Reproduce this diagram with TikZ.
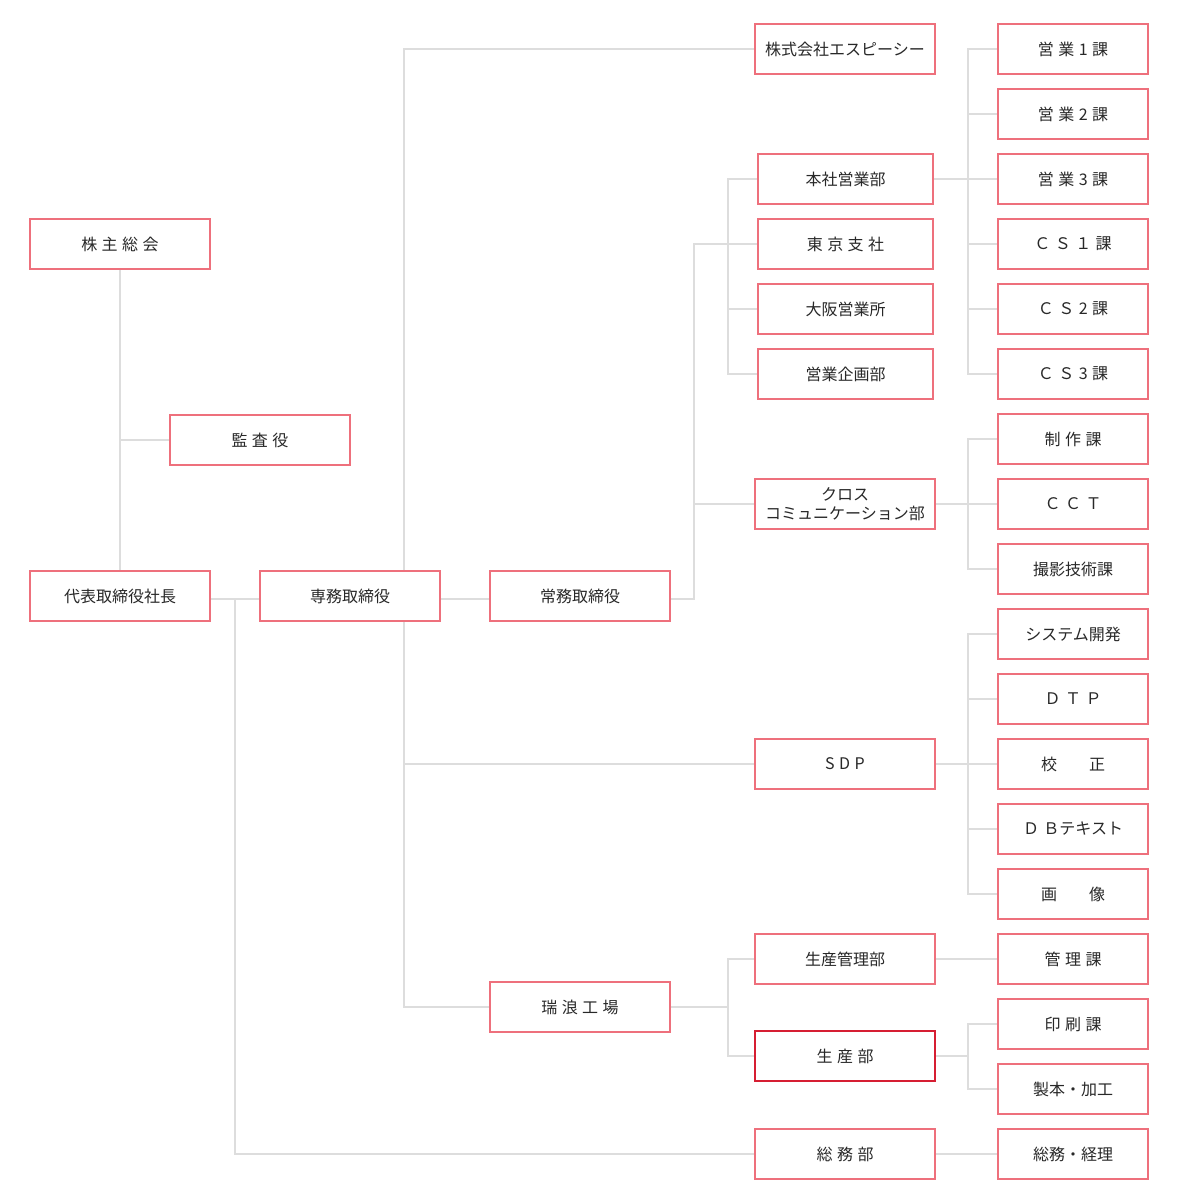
\documentclass[tikz,border=0pt]{standalone}
\usepackage{fontspec}
\setmainfont{Noto Sans CJK JP}
\usetikzlibrary{backgrounds}
\definecolor{boxred}{RGB}{238,112,124}
\definecolor{strongbord}{RGB}{214,30,50}
\definecolor{linegray}{RGB}{221,221,221}
\definecolor{txt}{RGB}{40,40,40}
\newcommand\gp{\hspace{4.5pt}}
\newcommand\wgp{\hspace{32pt}}
\tikzset{
  orgbox/.style={draw=boxred, line width=1.3pt, fill=white, minimum width=180pt, minimum height=50pt,
    inner sep=0pt, text=txt, align=center, font=\fontsize{16}{18}\selectfont},
  narrowbox/.style={orgbox, minimum width=175pt},
  secbox/.style={orgbox, minimum width=150pt},
  link/.style={draw=linegray, line width=1.5pt}
}
\begin{document}
\begin{tikzpicture}[x=1pt,y=-1pt]
\useasboundingbox (0,0) rectangle (1200,1200);
% column 0/1
\node[orgbox] (kabu) at (120,244) {株\gp 主\gp 総\gp 会};
\node[orgbox] (kansa) at (260,440) {監\gp 査\gp 役};
\node[orgbox] (daihyo) at (120,596) {代表取締役社長};
\node[orgbox] (senmu) at (350,596) {専務取締役};
\node[orgbox] (jomu) at (580,596) {常務取締役};
\node[orgbox] (mizu) at (580,1007) {瑞\gp 浪\gp 工\gp 場};
% column 2
\node[orgbox] (spc) at (845,49) {株式会社エスピーシー};
\node[narrowbox] (honsha) at (845.5,179) {本社営業部};
\node[narrowbox] (tokyo) at (845.5,244) {東\gp 京\gp 支\gp 社};
\node[narrowbox] (osaka) at (845.5,309) {大阪営業所};
\node[narrowbox] (kikaku) at (845.5,374) {営業企画部};
\node[orgbox, font=\fontsize{16}{19}\selectfont] (cross) at (845,504) {クロス\\コミュニケーション部};
\node[orgbox] (sdp) at (845,764) {S\gp D\gp P};
\node[orgbox] (kanribu) at (845,959) {生産管理部};
\node[orgbox, draw=strongbord] (seisan) at (845,1056) {生\gp 産\gp 部};
\node[orgbox] (somu) at (845,1154) {総\gp 務\gp 部};
% column 3
\node[secbox] (e1) at (1073,49) {営\gp 業\gp 1\gp 課};
\node[secbox] (e2) at (1073,114) {営\gp 業\gp 2\gp 課};
\node[secbox] (e3) at (1073,179) {営\gp 業\gp 3\gp 課};
\node[secbox] (cs1) at (1073,244) {Ｃ\gp Ｓ\gp １\gp 課};
\node[secbox] (cs2) at (1073,309) {Ｃ\gp Ｓ\gp 2\gp 課};
\node[secbox] (cs3) at (1073,374) {Ｃ\gp Ｓ\gp 3\gp 課};
\node[secbox] (seisaku) at (1073,439) {制\gp 作\gp 課};
\node[secbox] (cct) at (1073,504) {Ｃ\gp Ｃ\gp Ｔ};
\node[secbox] (satsuei) at (1073,569) {撮影技術課};
\node[secbox] (system) at (1073,634) {システム開発};
\node[secbox] (dtp) at (1073,699) {Ｄ\gp Ｔ\gp Ｐ};
\node[secbox] (kosei) at (1073,764) {校\wgp 正};
\node[secbox] (dbtext) at (1073,829) {Ｄ\gp Ｂテキスト};
\node[secbox] (gazo) at (1073,894) {画\wgp 像};
\node[secbox] (kanrika) at (1073,959) {管\gp 理\gp 課};
\node[secbox] (insatsu) at (1073,1024) {印\gp 刷\gp 課};
\node[secbox] (seihon) at (1073,1089) {製本・加工};
\node[secbox] (keiri) at (1073,1154) {総務・経理};
% junction columns
\coordinate (ca) at (235,0);
\coordinate (cb) at (404,0);
\coordinate (cc) at (694,0);
\coordinate (cd) at (728,0);
\coordinate (ce) at (968,0);
\begin{scope}[on background layer]
\fill[white] (0,0) rectangle (1200,1200);
\draw[link] (kabu.south) -- (daihyo.north);
\draw[link] (kansa.west) -- (kansa.west -| kabu.south);
\draw[link] ([yshift=-3pt]daihyo.east) -- ([yshift=-3pt]senmu.west);
\draw[link] ([yshift=-3pt]ca |- daihyo.east) |- (somu.west);
\draw[link] (spc.west) -| (cb |- mizu.west) -- (mizu.west);
\draw[link] (cb |- sdp.west) -- (sdp.west);
\draw[link] ([yshift=-3pt]senmu.east) -- ([yshift=-3pt]jomu.west);
\draw[link] ([yshift=-3pt]jomu.east) -| (cc |- tokyo.west) -- (tokyo.west);
\draw[link] (cc |- cross.west) -- (cross.west);
\draw[link] (honsha.west) -| (cd |- kikaku.west) -- (kikaku.west);
\draw[link] (cd |- osaka.west) -- (osaka.west);
% sales sections
\draw[link] (e1.west) -| (ce |- cs3.west) -- (cs3.west);
\draw[link] (honsha.east) -- (e3.west);
\foreach \n in {e2,cs1,cs2} \draw[link] (ce |- \n.west) -- (\n.west);
% cross communication
\draw[link] (seisaku.west) -| (ce |- satsuei.west) -- (satsuei.west);
\draw[link] (cross.east) -- (cct.west);
% SDP
\draw[link] (system.west) -| (ce |- gazo.west) -- (gazo.west);
\draw[link] (sdp.east) -- (kosei.west);
\foreach \n in {dtp,dbtext} \draw[link] (ce |- \n.west) -- (\n.west);
% Mizunami factory
\draw[link] (mizu.east) -| (cd |- kanribu.west) -- (kanribu.west);
\draw[link] (cd |- mizu.east) |- (seisan.west);
\draw[link] (kanribu.east) -- (kanrika.west);
\draw[link] (insatsu.west) -| (ce |- seihon.west) -- (seihon.west);
\draw[link] (seisan.east) -- (ce |- seisan.east);
\draw[link] (somu.east) -- (keiri.west);
\end{scope}
\end{tikzpicture}
\end{document}
